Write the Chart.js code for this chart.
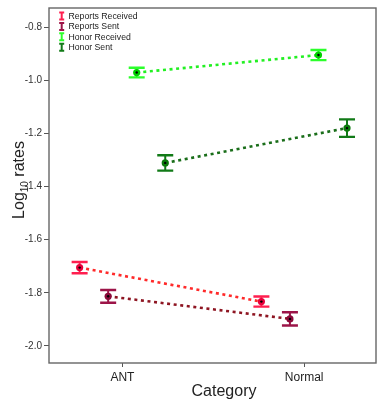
<!DOCTYPE html>
<html><head><meta charset="utf-8">
<script src="https://cdn.jsdelivr.net/npm/chart.js@4/dist/chart.umd.min.js"></script>
<style>html,body{margin:0;padding:0;background:#fff;}#wrap{width:378px;height:410px;position:relative}</style>
</head><body><div id="wrap"><canvas id="c" width="378" height="410"></canvas></div>
<script>
// ---- data ----
const categories = ['ANT', 'Normal'];
const seriesNames = ['Reports Received', 'Reports Sent', 'Honor Received', 'Honor Sent'];
const reportsReceived = [-1.705, -1.833];
const reportsSent = [-1.813, -1.898];
const honorReceived = [-0.971, -0.905];
const honorSent = [-1.311, -1.180];
const reportsReceivedErr = [0.021, 0.019];
const reportsSentErr = [0.024, 0.025];
const honorReceivedErr = [0.018, 0.019];
const honorSentErr = [0.029, 0.033];
const yTicks = [-2.0, -1.8, -1.6, -1.4, -1.2, -1.0, -0.8];

// ---- styling ----
const FONT = 'Liberation Sans, Arial, sans-serif';
const barColors = ['#ff1f4f', '#9c1448', '#2bff2b', '#117a17'];
const lineColors = ['#ff2a2a', '#8e1522', '#22f022', '#1a6e1a'];
const pointColors = ['#e8003a', '#8b0a3a', '#00d000', '#0a7a0a'];
const DODGE = 0.157;

const seriesValues = [reportsReceived, reportsSent, honorReceived, honorSent];
const seriesErrs = [reportsReceivedErr, reportsSentErr, honorReceivedErr, honorSentErr];
const offsets = seriesNames.map((_, i) => (i - 1.5) * DODGE);

const datasets = seriesNames.map((name, i) => ({
  label: name,
  data: seriesValues[i].map((v, j) => ({ x: j + offsets[i], y: v })),
  errs: seriesErrs[i],
  showLine: true,
  borderColor: lineColors[i],
  borderWidth: 2.6,
  borderDash: [3, 3.6],
  pointRadius: 0,
  pointHoverRadius: 0,
  fill: false
}));

const errorBarPlugin = {
  id: 'errbars',
  afterDatasetsDraw(chart) {
    const ctx = chart.ctx, xs = chart.scales.x, ys = chart.scales.y;
    chart.data.datasets.forEach((ds, i) => {
      ds.data.forEach((p, j) => {
        const e = ds.errs[j];
        const x = xs.getPixelForValue(p.x);
        const y = ys.getPixelForValue(p.y);
        const yt = ys.getPixelForValue(p.y + e);
        const yb = ys.getPixelForValue(p.y - e);
        ctx.save();
        ctx.strokeStyle = barColors[i];
        ctx.lineWidth = 2;
        ctx.beginPath();
        ctx.moveTo(x, yt); ctx.lineTo(x, yb);
        ctx.stroke();
        ctx.lineWidth = 2.4;
        ctx.beginPath();
        ctx.moveTo(x - 8, yt); ctx.lineTo(x + 8, yt);
        ctx.moveTo(x - 8, yb); ctx.lineTo(x + 8, yb);
        ctx.stroke();
        ctx.fillStyle = pointColors[i];
        ctx.beginPath(); ctx.arc(x, y, 3.6, 0, Math.PI * 2); ctx.fill();
        ctx.fillStyle = '#000';
        ctx.beginPath(); ctx.arc(x, y, 1.2, 0, Math.PI * 2); ctx.fill();
        ctx.restore();
      });
    });
  }
};

const decorPlugin = {
  id: 'decor',
  afterDraw(chart) {
    const ctx = chart.ctx, a = chart.chartArea;
    ctx.save();
    // frame
    ctx.strokeStyle = '#666';
    ctx.lineWidth = 1.4;
    ctx.strokeRect(a.left, a.top, a.right - a.left, a.bottom - a.top);
    // legend
    ctx.font = '8.7px ' + FONT;
    ctx.textBaseline = 'middle';
    ctx.textAlign = 'left';
    seriesNames.forEach((name, i) => {
      const y = 16 + i * 10.4, x = 61.7;
      ctx.strokeStyle = barColors[i];
      ctx.lineWidth = 2;
      ctx.beginPath();
      ctx.moveTo(x, y - 3.5); ctx.lineTo(x, y + 3.5);
      ctx.moveTo(x - 2.5, y - 3.5); ctx.lineTo(x + 2.5, y - 3.5);
      ctx.moveTo(x - 2.5, y + 3.5); ctx.lineTo(x + 2.5, y + 3.5);
      ctx.stroke();
      ctx.fillStyle = '#222';
      ctx.fillText(name, 68.5, y + 0.5);
    });
    // x title
    ctx.fillStyle = '#222';
    ctx.font = '16px ' + FONT;
    ctx.textAlign = 'center';
    ctx.textBaseline = 'middle';
    ctx.fillText('Category', 224, 392);
    // y title with subscript
    ctx.translate(24, 180);
    ctx.rotate(-Math.PI / 2);
    ctx.textAlign = 'left';
    ctx.textBaseline = 'alphabetic';
    ctx.font = '16px ' + FONT;
    const w1 = ctx.measureText('Log').width;
    const w3 = ctx.measureText(' rates').width;
    ctx.font = '10px ' + FONT;
    const w2 = ctx.measureText('10').width;
    let x0 = -(w1 + w2 + w3) / 2;
    ctx.font = '16px ' + FONT;
    ctx.fillText('Log', x0, 0);
    ctx.font = '10px ' + FONT;
    ctx.fillText('10', x0 + w1, 4);
    ctx.font = '16px ' + FONT;
    ctx.fillText(' rates', x0 + w1 + w2, 0);
    ctx.restore();
  }
};

new Chart(document.getElementById('c'), {
  type: 'scatter',
  data: { datasets },
  options: {
    responsive: false,
    animation: false,
    events: [],
    layout: { padding: { top: 4, right: 2, left: 0, bottom: 0 } },
    plugins: { legend: { display: false }, tooltip: { enabled: false } },
    scales: {
      x: {
        type: 'linear',
        min: -0.404,
        max: 1.395,
        afterFit: s => { s.height = 47; },
        afterBuildTicks: s => { s.ticks = categories.map((_, i) => ({ value: i })); },
        border: { display: false },
        grid: { drawOnChartArea: false, drawTicks: true, tickLength: 4, color: '#555', lineWidth: 1 },
        ticks: { callback: v => categories[v], font: { size: 12, family: FONT }, color: '#222', padding: 3, maxRotation: 0 }
      },
      y: {
        type: 'linear',
        min: -2.064,
        max: -0.728,
        afterFit: s => { s.width = 49; },
        afterBuildTicks: s => { s.ticks = yTicks.map(v => ({ value: v })); },
        border: { display: false },
        grid: { drawOnChartArea: false, drawTicks: true, tickLength: 5, color: '#555', lineWidth: 1 },
        ticks: { callback: v => v.toFixed(1), font: { size: 10, family: FONT }, color: '#333', padding: 2 }
      }
    }
  },
  plugins: [errorBarPlugin, decorPlugin]
});
</script>
</body></html>
